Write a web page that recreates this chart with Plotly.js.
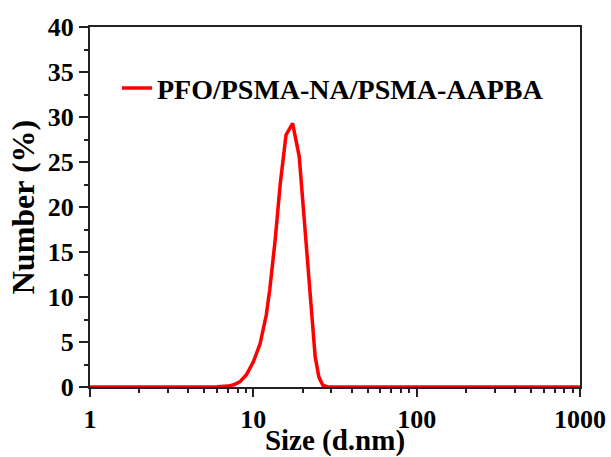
<!DOCTYPE html>
<html>
<head>
<meta charset="utf-8">
<script src="https://cdn.plot.ly/plotly-3.0.1.min.js"></script>
<style>html,body{margin:0;padding:0;background:#fff;}#chart{width:611px;height:457px;}</style>
</head>
<body>
<div id="chart"></div>
<script>
const seriesName = "PFO/PSMA-NA/PSMA-AAPBA";
const sizeNm = [1, 2, 4, 6, 7.0, 7.6, 8.3, 9.1, 10.0, 11.0, 12.0, 12.6, 13.6, 14.6, 15.85, 17.4, 19.1, 20.9, 22.9, 23.9, 25.2, 26.6, 28.5, 50, 100, 500, 1000];
const numberPct = [0, 0, 0, 0.02, 0.1, 0.25, 0.6, 1.4, 2.8, 4.8, 8.0, 10.8, 16.3, 22.5, 28.0, 29.3, 25.6, 16.5, 7.5, 3.4, 1.1, 0.2, 0, 0, 0, 0, 0];
const xTickVals = [1, 10, 100, 1000];
const xTickText = ["1", "10", "100", "1000"];
const yTickVals = [0, 5, 10, 15, 20, 25, 30, 35, 40];

const fontFam = "Liberation Serif, Times New Roman, serif";
const trace = {
  x: sizeNm, y: numberPct, type: 'scatter', mode: 'lines', name: seriesName,
  line: {color: '#ff0000', width: 3.5}, cliponaxis: false
};
const layout = {
  width: 611, height: 457,
  margin: {l: 90, r: 31, t: 27, b: 70},
  paper_bgcolor: '#ffffff', plot_bgcolor: '#ffffff',
  font: {family: fontFam, color: '#000', size: 26, weight: 'bold'},
  showlegend: true,
  legend: {x: 0.055, y: 0.83, xanchor: 'left', yanchor: 'middle', bgcolor: 'rgba(0,0,0,0)',
           font: {family: fontFam, size: 28, color: '#000', weight: 'bold'}},
  xaxis: {
    type: 'log', range: [0, 3], tickvals: xTickVals, ticktext: xTickText,
    ticks: 'outside', ticklen: 8, tickwidth: 2, tickcolor: '#222',
    showline: true, linewidth: 2, linecolor: '#222', mirror: true,
    showgrid: false, zeroline: false,
    tickfont: {family: fontFam, size: 26, color: '#000', weight: 'bold'},
    minor: {ticks: 'outside', ticklen: 4, tickwidth: 2, tickcolor: '#222', dtick: 'D1', showgrid: false},
    title: {text: 'Size (d.nm)', font: {family: fontFam, size: 29, color: '#000', weight: 'bold'}, standoff: 0}
  },
  yaxis: {
    range: [0, 40], tickvals: yTickVals,
    ticks: 'outside', ticklen: 9, tickwidth: 2, tickcolor: '#222',
    showline: true, linewidth: 2, linecolor: '#222', mirror: true,
    showgrid: false, zeroline: false,
    tickfont: {family: fontFam, size: 26, color: '#000', weight: 'bold'},
    minor: {ticks: 'outside', ticklen: 4, tickwidth: 2, tickcolor: '#222', dtick: 2.5, showgrid: false},
    title: {text: 'Number (%)', font: {family: fontFam, size: 32, color: '#000', weight: 'bold'}, standoff: 4}
  }
};
Plotly.newPlot('chart', [trace], layout, {displayModeBar: false, staticPlot: true});
</script>
</body>
</html>
